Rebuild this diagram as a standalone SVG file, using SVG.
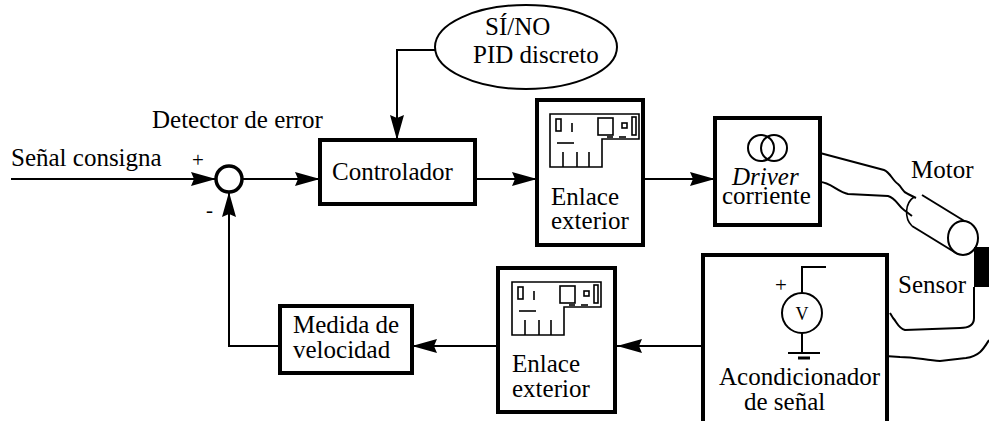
<svg xmlns="http://www.w3.org/2000/svg" width="989" height="421" viewBox="0 0 989 421" font-family="'Liberation Serif', 'DejaVu Serif', serif" font-size="25">
  <style>
    text { font-family: 'Liberation Serif', 'DejaVu Serif', serif; fill: #000; }
    .box { fill: #fff; stroke: #000; stroke-width: 4; }
    .wire { fill: none; stroke: #000; stroke-width: 2; }
    .thin { fill: none; stroke: #000; stroke-width: 1.6; }
    .conn { fill: none; stroke: #000; stroke-width: 2; marker-end: url(#arrow); }
  </style>
  <defs>
    <marker id="arrow" markerUnits="userSpaceOnUse" markerWidth="26" markerHeight="16" refX="25" refY="7.5" orient="auto">
      <path d="M0,0.5 L25,7.5 L0,14.5 L3,7.5 Z" fill="#000"/>
    </marker>
    <!-- circuit board icon -->
    <g id="board" fill="none" stroke="#000" stroke-width="1.6">
      <path d="M0,0 H89 V25 H52 V53 H0 Z"/>
      <rect x="6" y="5" width="5" height="12"/>
      <line x1="22" y1="9" x2="22" y2="18"/>
      <rect x="48" y="4" width="15" height="17"/>
      <rect x="72" y="9" width="5" height="5"/>
      <rect x="82" y="3" width="4" height="18"/>
      <line x1="57" y1="23" x2="63" y2="23"/>
      <line x1="69" y1="23" x2="76" y2="23"/>
      <line x1="7" y1="29" x2="24" y2="29"/>
      <line x1="13" y1="38" x2="13" y2="53"/>
      <line x1="27" y1="38" x2="27" y2="53"/>
      <line x1="39" y1="38" x2="39" y2="53"/>
    </g>
  </defs>

  <!-- connectors -->
  <g id="connectors">
    <line class="conn" x1="11" y1="179" x2="216" y2="179"/>
    <line class="conn" x1="242" y1="179" x2="320" y2="179"/>
    <polyline class="conn" points="436,50 397,50 397,140"/>
    <line class="conn" x1="475" y1="179" x2="537" y2="179"/>
    <line class="conn" x1="643" y1="179" x2="715" y2="179"/>
    <line class="conn" x1="703" y1="346" x2="617" y2="346"/>
    <line class="conn" x1="498" y1="346" x2="412" y2="346"/>
    <polyline class="conn" points="280,346 229,346 229,192"/>
    <!-- motor supply leads -->
    <path class="wire" d="M820,153 L884,170 C890,172 892,180 898,184 C903,188 902,192 908,194 L916,198"/>
    <path class="wire" d="M820,182 C830,182 838,192 848,194 L888,196 C896,198 898,206 904,210 L912,216"/>
    <!-- sensor leads -->
    <path class="wire" d="M974,287 L974,318 C974,326 968,328 960,328 L905,330 C898,328 897,322 893,318 L890,313"/>
    <path class="wire" d="M989,340 C984,348 980,356 966,358 L940,361 C925,360 915,357 900,357 L885,356"/>
  </g>

  <!-- summing junction -->
  <g id="detector">
    <circle cx="229" cy="179" r="13" fill="#fff" stroke="#000" stroke-width="3.5"/>
    <text x="192" y="167" font-size="21">+</text>
    <text x="206" y="217" font-size="21">-</text>
    <text x="152" y="128">Detector de error</text>
  </g>

  <g id="consigna">
    <text x="11" y="166">Señal consigna</text>
  </g>

  <g id="algoritmo">
    <ellipse cx="526" cy="47" rx="91" ry="42" fill="#fff" stroke="#000" stroke-width="2"/>
    <text x="485" y="35">SÍ/NO</text>
    <text x="473" y="63">PID discreto</text>
  </g>

  <g id="controlador">
    <rect class="box" x="320" y="140" width="155" height="64"/>
    <text x="332" y="180">Controlador</text>
  </g>

  <g id="enlace-salida">
    <rect class="box" x="537" y="100" width="106" height="145"/>
    <use href="#board" x="550" y="114"/>
    <text x="551" y="205">Enlace</text>
    <text x="551" y="229">exterior</text>
  </g>

  <g id="driver">
    <rect class="box" x="715" y="118" width="105" height="107"/>
    <circle cx="761" cy="148" r="13" fill="none" stroke="#000" stroke-width="2"/>
    <circle cx="774" cy="148" r="13" fill="none" stroke="#000" stroke-width="2"/>
    <text x="732" y="185" font-style="italic">Driver</text>
    <text x="722" y="204">corriente</text>
  </g>

  <g id="motor">
    <path class="wire" d="M922,195 L966,222"/>
    <path class="wire" d="M912,226 L956,253"/>
    <path class="thin" d="M914,197 C905,203 904,218 912,226"/>
    <ellipse cx="963" cy="238" rx="15" ry="17" fill="#fff" stroke="#000" stroke-width="2"/>
    <text x="911" y="178">Motor</text>
  </g>

  <g id="sensor">
    <rect x="974" y="247" width="16" height="40" fill="#000"/>
    <text x="898" y="293">Sensor</text>
  </g>

  <g id="acondicionador">
    <rect class="box" x="703" y="255" width="184" height="180"/>
    <polyline class="wire" points="826,267 802,267 802,293"/>
    <circle cx="802" cy="313" r="20" fill="#fff" stroke="#000" stroke-width="2"/>
    <text x="802" y="320" text-anchor="middle" font-size="18">V</text>
    <line class="wire" x1="802" y1="333" x2="802" y2="353"/>
    <line class="wire" x1="788" y1="353" x2="820" y2="353"/>
    <line x1="798" y1="358" x2="810" y2="358" stroke="#000" stroke-width="3"/>
    <text x="775" y="292" font-size="21">+</text>
    <text x="719" y="385">Acondicionador</text>
    <text x="744" y="410">de señal</text>
  </g>

  <g id="enlace-entrada">
    <rect class="box" x="498" y="268" width="117" height="144"/>
    <use href="#board" x="512" y="282"/>
    <text x="512" y="372">Enlace</text>
    <text x="512" y="397">exterior</text>
  </g>

  <g id="medida">
    <rect class="box" x="280" y="306" width="132" height="67"/>
    <text x="293" y="333">Medida de</text>
    <text x="293" y="358">velocidad</text>
  </g>
</svg>
